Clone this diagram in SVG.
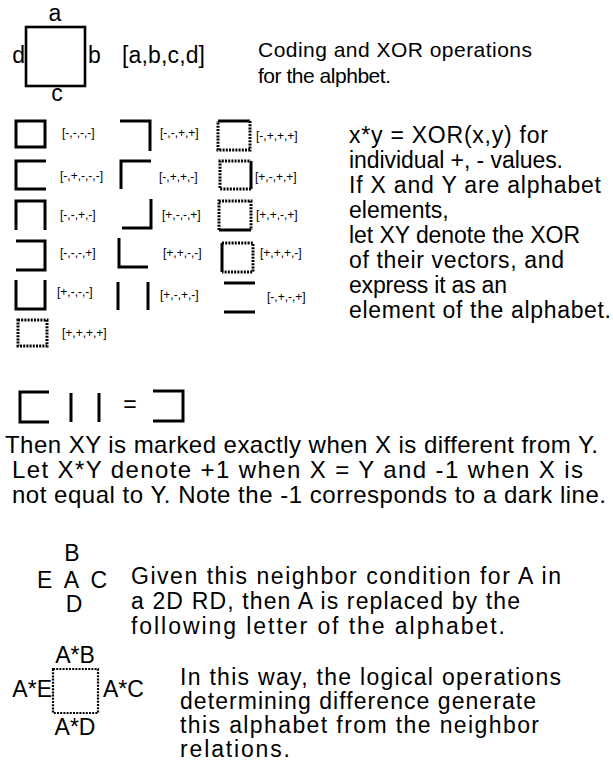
<svg xmlns="http://www.w3.org/2000/svg" width="613" height="761" viewBox="0 0 613 761">
<style>
text{font-family:"Liberation Sans",Arial,sans-serif;fill:#000}
.t{font-size:23px}
.i{font-size:21px}
.b{font-size:24px}
.n{font-size:23px}
.s{font-size:12px}
.m{text-anchor:middle}
.e{text-anchor:end}
.sol{fill:none;stroke:#000;stroke-width:3}
.dot{fill:none;stroke:#000;stroke-width:3;stroke-dasharray:2 1.2}
.dot2{fill:none;stroke:#000;stroke-width:2.2;stroke-dasharray:2 1.2}
</style>
<rect width="613" height="761" fill="#fff"/>
<g id="legend">
<rect x="26" y="27" width="59" height="59" fill="none" stroke="#000" stroke-width="2.6"/>
<text class="t m" x="55" y="21">a</text>
<text class="t" x="88" y="63">b</text>
<text class="t m" x="57" y="101">c</text>
<text class="t e" x="25" y="63">d</text>
<text class="t" x="122" y="63" textLength="83" lengthAdjust="spacing">[a,b,c,d]</text>
</g>
<g id="intro">
<text class="i" x="258" y="57" textLength="274" lengthAdjust="spacing">Coding and XOR operations</text>
<text class="i" x="258" y="83" textLength="133" lengthAdjust="spacing">for the alphbet.</text>
</g>
<g id="alphabet">
<g id="c1r1"><rect class="sol" x="16" y="121" width="29" height="26"/><text class="s" x="62" y="137">[-,-,-,-]</text></g>
<g id="c1r2"><path class="sol" d="M46,161H16V189H46"/><text class="s" x="60" y="180">[-,+,-,-,-]</text></g>
<g id="c1r3"><path class="sol" d="M16,230V201H45V230"/><text class="s" x="60" y="219">[-,-,+,-]</text></g>
<g id="c1r4"><path class="sol" d="M16,241H45V270H16"/><text class="s" x="60" y="257">[-,-,-,+]</text></g>
<g id="c1r5"><path class="sol" d="M16,280V309H45V280"/><text class="s" x="57" y="296">[+,-,-,-]</text></g>
<g id="c1r6"><rect class="dot" x="18" y="320" width="29" height="26"/><text class="s" x="62" y="337">[+,+,+,+]</text></g>
<g id="c2r1"><path class="sol" d="M120,121H150V151"/><text class="s" x="160" y="137">[-,-,+,+]</text></g>
<g id="c2r2"><path class="sol" d="M121,189V161H151"/><text class="s" x="159" y="181">[-,+,+,-]</text></g>
<g id="c2r3"><path class="sol" d="M151,199V228H122"/><text class="s" x="162" y="219">[+,-,-,+]</text></g>
<g id="c2r4"><path class="sol" d="M119,238V267H148"/><text class="s" x="163" y="257">[+,+,-,-]</text></g>
<g id="c2r5"><path class="sol" d="M118,282V310M148,282V310"/><text class="s" x="160" y="299">[+,-,+,-]</text></g>
<g id="c3r1"><path class="dot" d="M250,121V150H218V121"/><path class="sol" d="M218,121H250"/><text class="s" x="256" y="140">[-,+,+,+]</text></g>
<g id="c3r2"><path class="dot" d="M251,189H220V161H251"/><path class="sol" d="M251,161V189"/><text class="s" x="255" y="181">[+,-,+,+]</text></g>
<g id="c3r3"><path class="dot" d="M219,230V201H251V230"/><path class="sol" d="M219,230H251"/><text class="s" x="256" y="219">[+,+,-,+]</text></g>
<g id="c3r4"><path class="dot" d="M222,243H253V272H222"/><path class="sol" d="M222,243V272"/><text class="s" x="260" y="257">[+,+,+,-]</text></g>
<g id="c3r5"><path class="sol" d="M224,283H255M224,312H255"/><text class="s" x="267" y="301">[-,+,-,+]</text></g>
</g>
<g id="rules">
<text class="t" x="349" y="143" textLength="199" lengthAdjust="spacing">x*y = XOR(x,y) for</text>
<text class="t" x="349" y="168" textLength="214" lengthAdjust="spacing">individual +, - values.</text>
<text class="t" x="349" y="193" textLength="252" lengthAdjust="spacing">If X and Y are alphabet</text>
<text class="t" x="349" y="218">elements,</text>
<text class="t" x="349" y="243" textLength="231" lengthAdjust="spacing">let XY denote the XOR</text>
<text class="t" x="349" y="268" textLength="215" lengthAdjust="spacing">of their vectors, and</text>
<text class="t" x="349" y="293" textLength="158" lengthAdjust="spacing">express it as an</text>
<text class="t" x="349" y="318" textLength="262" lengthAdjust="spacing">element of the alphabet.</text>
</g>
<g id="example">
<path class="sol" stroke-width="3.5" d="M49,392H20V422H49"/>
<path class="sol" stroke-width="3.5" d="M71,393V422M99,393V422"/>
<text class="t m" x="130" y="412">=</text>
<path class="sol" stroke-width="3.5" d="M153,391H183V421H153"/>
</g>
<g id="explain">
<text class="b" x="5" y="453" textLength="593" lengthAdjust="spacing">Then XY is marked exactly when X is different from Y.</text>
<text class="b" x="12" y="478" textLength="571" lengthAdjust="spacing">Let X*Y denote +1 when X = Y and -1 when X is</text>
<text class="b" x="12" y="503" textLength="594" lengthAdjust="spacing">not equal to Y. Note the -1 corresponds to a dark line.</text>
</g>
<g id="neighbors">
<text class="t m" x="72" y="561">B</text>
<text class="t" x="37" y="588" textLength="70" lengthAdjust="spacing">E A C</text>
<text class="t m" x="74" y="612">D</text>
<text class="n" x="131" y="584" textLength="430" lengthAdjust="spacing">Given this neighbor condition for A in</text>
<text class="n" x="131" y="609" textLength="389" lengthAdjust="spacing">a 2D RD, then A is replaced by the</text>
<text class="n" x="131" y="634" textLength="374" lengthAdjust="spacing">following letter of the alphabet.</text>
</g>
<g id="result">
<rect class="dot2" x="53" y="669" width="45" height="44"/>
<text class="t m" x="75" y="663">A*B</text>
<text class="t e" x="52" y="697">A*E</text>
<text class="t" x="103" y="697">A*C</text>
<text class="t m" x="75" y="735">A*D</text>
<text class="n" x="180" y="685" textLength="381" lengthAdjust="spacing">In this way, the logical operations</text>
<text class="n" x="180" y="709" textLength="356" lengthAdjust="spacing">determining difference generate</text>
<text class="n" x="180" y="733" textLength="359" lengthAdjust="spacing">this alphabet from the neighbor</text>
<text class="n" x="180" y="757" textLength="110" lengthAdjust="spacing">relations.</text>
</g>
</svg>
